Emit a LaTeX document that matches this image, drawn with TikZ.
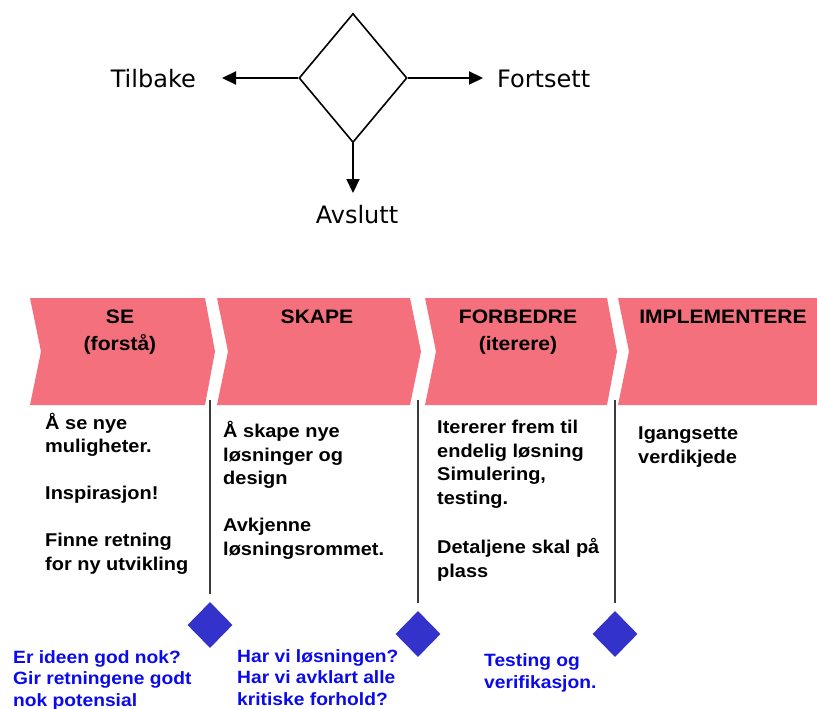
\documentclass[tikz,border=0pt]{standalone}
\usepackage{fontspec}
\setmainfont{Liberation Sans}
\newfontfamily\hand{DejaVu Sans}
\newfontfamily\wide[FakeStretch=1.08]{Liberation Sans}
\usetikzlibrary{shapes.geometric,arrows.meta}
\definecolor{stagepink}{RGB}{243,112,124}
\definecolor{gateblue}{RGB}{51,51,204}
\definecolor{notetext}{RGB}{10,10,235}
\definecolor{rulegray}{RGB}{60,60,60}

\begin{document}
\begin{tikzpicture}[x=1pt,y=-1pt,
  decision/.style={diamond, draw=black, line width=1.6pt, minimum width=108pt,
    minimum height=129pt, inner sep=0pt},
  flow/.style={line width=2.2pt, -{Triangle[length=14pt,width=13pt]}},
  choice/.style={font=\hand\fontsize{24}{28}\selectfont, inner sep=0pt},
  stage/.style={fill=stagepink},
  % multi-line nodes are placed by the baseline of their last line
  title/.style={font=\wide\bfseries\fontsize{19.5}{27}\selectfont, align=center,
    inner sep=0pt, anchor=base},
  body/.style={font=\wide\bfseries\fontsize{18.5}{23.5}\selectfont, align=left,
    inner sep=0pt, anchor=base west},
  gate/.style={diamond, fill=gateblue, minimum width=45pt, minimum height=46pt,
    inner sep=0pt},
  note/.style={font=\wide\bfseries\fontsize{17.8}{21.3}\selectfont, text=notetext,
    align=left, inner sep=0pt, anchor=base west},
  milestone/.style={draw=rulegray, line width=1.8pt, shorten >=8pt}
]
\useasboundingbox (0,0) rectangle (817,709);

% decision symbol with its three outcomes
\node[decision] (dec) at (353,78) {};
\coordinate (backtip) at (222,78);
\coordinate (ontip) at (483,78);
\coordinate (endtip) at (353,193);
\draw[flow] (dec.west) -- (backtip);
\draw[flow] (dec.east) -- (ontip);
\draw[flow] (dec.south) -- (endtip);
\node[choice, anchor=base east] (back) at (196,88) {Tilbake};
\node[choice, anchor=base west] (on) at (497,88) {Fortsett};
\node[choice, anchor=base] (end) at (357,223) {Avslutt};

% milestone rules between the phases
\coordinate (m1) at (210,400);
\coordinate (m2) at (418,400);
\coordinate (m3) at (615,400);
\node[gate] (g1) at (210,625) {};
\node[gate] (g2) at (418,634) {};
\node[gate] (g3) at (615,634) {};
\draw[milestone] (m1) -- (g1.north);
\draw[milestone] (m2) -- (g2.north);
\draw[milestone] (m3) -- (g3.north);

% phase arrows
\fill[stage] (30,298) -- (205,298) -- (215,351.5) -- (205,405) -- (30,405) -- (41,351.5) -- cycle;
\fill[stage] (217,298) -- (410,298) -- (421,351.5) -- (410,405) -- (217,405) -- (228,351.5) -- cycle;
\fill[stage] (425,298) -- (607,298) -- (617,351.5) -- (607,405) -- (425,405) -- (436,351.5) -- cycle;
\fill[stage] (618,298) -- (817,298) -- (817,405) -- (618,405) -- (629,351.5) -- cycle;

\node[title] (t1) at (120,350) {SE\\(forstå)};
\node[title] (t2) at (317,323) {SKAPE};
\node[title] (t3) at (518,350) {FORBEDRE\\(iterere)};
\node[title] (t4) at (723,323) {IMPLEMENTERE};

% phase descriptions
\node[body] (b1) at (45,570) {Å se nye\\muligheter.\\[23.5pt]Inspirasjon!\\[23.5pt]Finne retning\\for ny utvikling};
\node[body] (b2) at (223,555) {Å skape nye\\løsninger og\\design\\[23.5pt]Avkjenne\\løsningsrommet.};
\node[body] (b3) at (437,577) {Itererer frem til\\endelig løsning\\Simulering,\\testing.\\[26pt]Detaljene skal på\\plass};
\node[body] (b4) at (638,463) {Igangsette\\verdikjede};

% questions at each gate
\node[note] (n1) at (13,706) {Er ideen god nok?\\Gir retningene godt\\nok potensial};
\node[note] (n2) at (237,705) {Har vi løsningen?\\Har vi avklart alle\\kritiske forhold?};
\node[note] (n3) at (484,688) {Testing og\\verifikasjon.};
\end{tikzpicture}
\end{document}
